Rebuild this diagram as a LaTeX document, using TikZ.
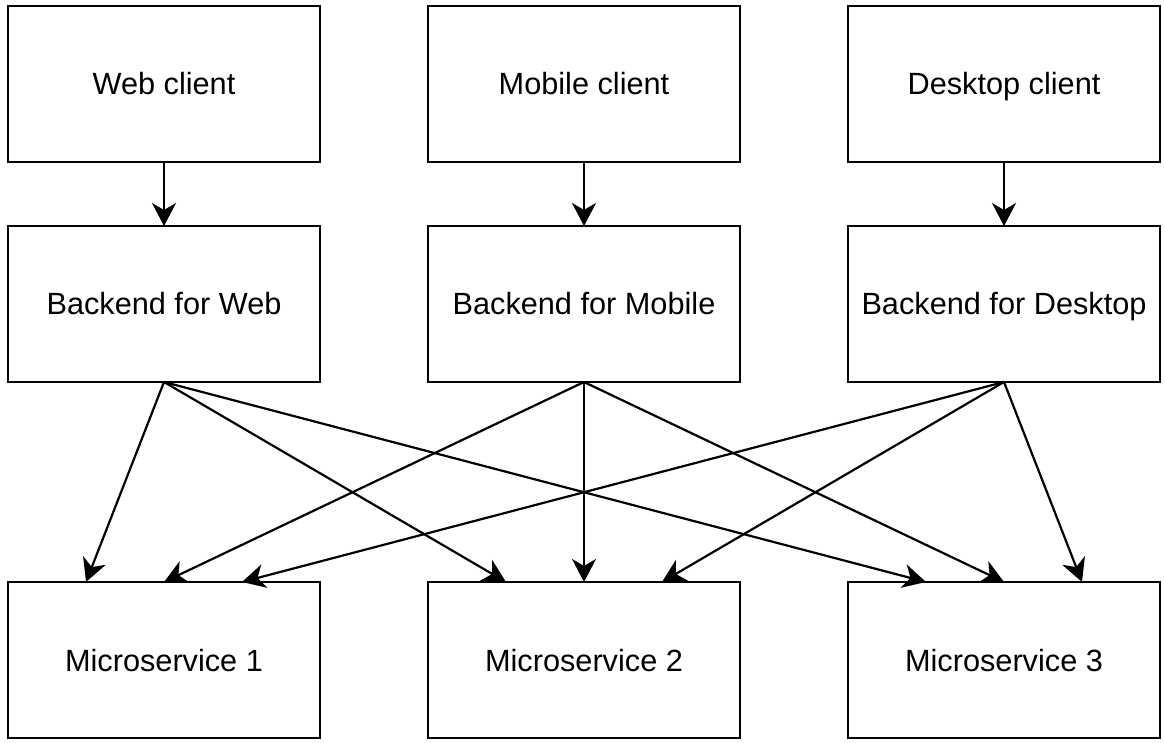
\documentclass[tikz,border=0pt]{standalone}
\usepackage{fontspec}
\setmainfont{Liberation Sans}
\usetikzlibrary{arrows.meta}
\begin{document}
\begin{tikzpicture}[x=1pt,y=-1pt,
  box/.style={draw=black, line width=2.2pt, minimum width=312pt, minimum height=156pt,
    inner sep=0pt, outer sep=0pt, text height=22pt, text depth=0pt,
    font=\fontsize{30.7}{36}\selectfont, text=black},
  conn/.style={draw=black, line width=2.2pt, -{Stealth[length=23pt,width=24pt,inset=7pt]}}]
\useasboundingbox[fill=white] (0,0) rectangle (1165,743);
\node[box] (wc) at (164,84) {Web client};
\node[box] (mc) at (584,84) {Mobile client};
\node[box] (dc) at (1004,84) {Desktop client};
\node[box] (bw) at (164,304) {Backend for Web};
\node[box] (bm) at (584,304) {Backend for Mobile};
\node[box] (bd) at (1004,304) {Backend for Desktop};
\node[box] (m1) at (164,660) {Microservice 1};
\node[box] (m2) at (584,660) {Microservice 2};
\node[box] (m3) at (1004,660) {Microservice 3};
\draw[conn] (wc.south) -- (bw.north);
\draw[conn] (mc.south) -- (bm.north);
\draw[conn] (dc.south) -- (bd.north);
\draw[conn] (bw.south) -- ([xshift=-78pt]m1.north);
\draw[conn] (bw.south) -- ([xshift=-78pt]m2.north);
\draw[conn] (bw.south) -- ([xshift=-78pt]m3.north);
\draw[conn] (bm.south) -- (m1.north);
\draw[conn] (bm.south) -- (m2.north);
\draw[conn] (bm.south) -- (m3.north);
\draw[conn] (bd.south) -- ([xshift=78pt]m1.north);
\draw[conn] (bd.south) -- ([xshift=78pt]m2.north);
\draw[conn] (bd.south) -- ([xshift=78pt]m3.north);
\end{tikzpicture}
\end{document}
